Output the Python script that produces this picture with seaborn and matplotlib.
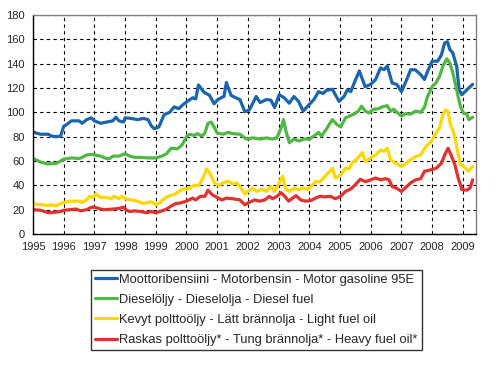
import numpy as np
import pandas as pd
import seaborn as sns
import matplotlib.pyplot as plt

# series (year as decimal, price index)
petrol_t = [1995.0, 1995.1, 1995.25, 1995.5, 1995.6, 1995.75, 1995.9, 1996.0, 1996.1, 1996.25,
            1996.5, 1996.6, 1996.75, 1996.9, 1997.0, 1997.2, 1997.4, 1997.6, 1997.7, 1997.8,
            1997.95, 1998.0, 1998.2, 1998.4, 1998.6, 1998.75, 1998.85, 1998.95, 1999.1, 1999.27,
            1999.45, 1999.6, 1999.75, 1999.87, 2000.0, 2000.2, 2000.3, 2000.39, 2000.57, 2000.75,
            2000.9, 2001.0, 2001.13, 2001.22, 2001.3, 2001.45, 2001.6, 2001.74, 2001.9, 2002.05,
            2002.27, 2002.4, 2002.6, 2002.75, 2002.87, 2003.02, 2003.18, 2003.35, 2003.5, 2003.65,
            2003.8, 2004.0, 2004.15, 2004.3, 2004.45, 2004.55, 2004.75, 2004.97, 2005.13, 2005.24,
            2005.35, 2005.5, 2005.63, 2005.82, 2006.0, 2006.16, 2006.32, 2006.43, 2006.54, 2006.7,
            2006.85, 2007.0, 2007.15, 2007.3, 2007.45, 2007.63, 2007.75, 2007.85, 2008.0, 2008.18,
            2008.3, 2008.41, 2008.5, 2008.58, 2008.67, 2008.8, 2008.88, 2008.97, 2009.13, 2009.32]
petrol_v = [84, 83, 82, 82, 80.5, 80, 80.5, 88.5, 90, 93,
            93, 91, 94, 95.5, 93, 91, 92, 93, 96, 93,
            92, 95.5, 95, 94, 95, 94, 89, 86.5, 88, 98,
            100, 104.5, 103, 106, 108.5, 112, 111, 122.5, 116.5, 114,
            107, 110, 112, 113, 124.5, 114, 112, 110.5, 100.5, 102,
            113, 108, 110.5, 110, 104, 114.5, 112, 107.5, 113, 109,
            101, 106.5, 110.5, 117, 115.5, 118, 119, 109, 113, 118.5,
            117, 126.5, 134, 121, 123, 127, 136.5, 135, 138, 124,
            123, 117, 125.5, 135, 135, 131, 127, 133.5, 142, 142,
            147, 157, 158, 151.5, 149, 138, 118.5, 114.5, 118.5, 123]

diesel_t = [1995.0, 1995.1, 1995.25, 1995.5, 1995.6, 1995.75, 1995.9, 1996.0, 1996.25, 1996.5,
            1996.6, 1996.75, 1996.9, 1997.0, 1997.2, 1997.4, 1997.5, 1997.6, 1997.8, 1998.0,
            1998.15, 1998.3, 1998.5, 1998.75, 1999.0, 1999.2, 1999.35, 1999.5, 1999.7, 1999.85,
            2000.0, 2000.1, 2000.25, 2000.35, 2000.5, 2000.6, 2000.7, 2000.8, 2000.9, 2001.0,
            2001.2, 2001.35, 2001.5, 2001.74, 2001.95, 2002.16, 2002.4, 2002.6, 2002.8, 2002.94,
            2003.08, 2003.16, 2003.24, 2003.35, 2003.5, 2003.67, 2003.83, 2004.0, 2004.15, 2004.3,
            2004.4, 2004.55, 2004.75, 2004.9, 2005.02, 2005.18, 2005.32, 2005.45, 2005.6, 2005.7,
            2005.83, 2005.94, 2006.1, 2006.26, 2006.37, 2006.54, 2006.65, 2006.75, 2006.88, 2007.0,
            2007.15, 2007.3, 2007.46, 2007.63, 2007.75, 2007.85, 2008.0, 2008.12, 2008.24, 2008.35,
            2008.48, 2008.58, 2008.69, 2008.8, 2008.92, 2009.02, 2009.13, 2009.2, 2009.32]
diesel_v = [62, 61, 59, 57.5, 58, 58, 60, 61.5, 62.5, 62,
            63, 65, 65.5, 65, 64, 62, 62, 64, 64, 66,
            64, 63, 63, 62.5, 62.5, 64, 66, 70.5, 70, 73,
            80, 82, 81, 82.5, 80.5, 83, 91, 92, 88, 83,
            82, 83.5, 82.5, 82, 78, 79, 78, 79, 78, 79,
            87, 94, 84.5, 75, 78, 76.5, 78, 78, 80.5, 83.5,
            80.5, 86, 94, 90, 88, 95.5, 97, 98.5, 101, 105,
            101, 99.5, 102.5, 103, 104.5, 105.5, 101, 102.5, 99.5, 97,
            99, 98.5, 101, 100, 104, 113, 121, 124, 129.5, 138,
            144, 140.5, 131, 118.5, 105, 99.5, 98.5, 94, 96]

light_t = [1995.0, 1995.1, 1995.3, 1995.5, 1995.6, 1995.75, 1995.85, 1996.0, 1996.2, 1996.5,
           1996.6, 1996.75, 1996.85, 1996.95, 1997.05, 1997.2, 1997.4, 1997.55, 1997.65, 1997.8,
           1997.9, 1998.0, 1998.2, 1998.4, 1998.6, 1998.75, 1998.85, 1999.0, 1999.15, 1999.27,
           1999.45, 1999.65, 1999.87, 2000.05, 2000.25, 2000.4, 2000.5, 2000.66, 2000.78, 2000.92,
           2001.05, 2001.2, 2001.35, 2001.5, 2001.62, 2001.74, 2001.9, 2002.0, 2002.15, 2002.3,
           2002.48, 2002.6, 2002.75, 2002.87, 2003.02, 2003.13, 2003.24, 2003.35, 2003.5, 2003.67,
           2003.8, 2003.94, 2004.05, 2004.2, 2004.35, 2004.5, 2004.7, 2004.76, 2004.85, 2005.02,
           2005.18, 2005.3, 2005.4, 2005.55, 2005.73, 2005.83, 2006.0, 2006.16, 2006.32, 2006.43,
           2006.54, 2006.65, 2006.82, 2007.0, 2007.15, 2007.3, 2007.46, 2007.63, 2007.8, 2007.97,
           2008.13, 2008.24, 2008.35, 2008.44, 2008.52, 2008.6, 2008.7, 2008.8, 2008.92, 2009.03,
           2009.18, 2009.32]
light_v = [25.5, 24.5, 24, 23.5, 24, 23, 24.5, 26, 27, 27,
           26, 28, 31, 30, 33, 30, 30, 29, 31, 29,
           31, 29, 28, 27, 25, 26, 26.5, 24, 26, 29,
           31.5, 33, 37, 37, 40, 40, 44, 53.5, 49, 41.5,
           40, 42, 43.5, 41, 42, 39, 33, 35, 37.5, 35,
           37, 35, 39, 35, 42, 47.5, 36.5, 35, 37.5, 36.5,
           38, 36.5, 39, 43, 43, 47, 52.5, 54, 46, 48.5,
           54, 53.5, 58.5, 61.5, 67, 59.5, 62.5, 65, 69, 68,
           70.5, 61, 58, 55.5, 58, 61, 63.5, 65, 72, 76,
           83, 87, 98, 102, 100.5, 89.5, 84, 72, 57, 55.5,
           51.5, 55.5]

heavy_t = [1995.0, 1995.25, 1995.5, 1995.75, 1995.9, 1996.0, 1996.2, 1996.4, 1996.55, 1996.75,
           1996.9, 1997.0, 1997.2, 1997.35, 1997.6, 1997.8, 1997.95, 1998.05, 1998.15, 1998.3,
           1998.5, 1998.7, 1998.85, 1999.0, 1999.2, 1999.35, 1999.5, 1999.65, 1999.8, 2000.0,
           2000.2, 2000.3, 2000.45, 2000.6, 2000.7, 2000.85, 2001.0, 2001.15, 2001.3, 2001.5,
           2001.74, 2001.9, 2002.0, 2002.22, 2002.38, 2002.55, 2002.7, 2002.8, 2002.95, 2003.08,
           2003.2, 2003.33, 2003.45, 2003.57, 2003.72, 2003.88, 2004.05, 2004.2, 2004.35, 2004.5,
           2004.68, 2004.85, 2005.02, 2005.18, 2005.35, 2005.5, 2005.66, 2005.83, 2006.0, 2006.16,
           2006.32, 2006.48, 2006.6, 2006.7, 2006.85, 2007.0, 2007.15, 2007.3, 2007.46, 2007.63,
           2007.75, 2007.92, 2008.13, 2008.3, 2008.41, 2008.52, 2008.63, 2008.74, 2008.85, 2008.97,
           2009.13, 2009.24, 2009.32]
heavy_v = [20, 19.5, 17.5, 18, 18.5, 19.5, 20, 20.5, 19, 20,
           22, 22, 20.5, 20, 20.5, 21, 22, 19.5, 18.5, 19,
           18.5, 17.5, 18.5, 17.5, 19, 20.5, 23, 25, 25.5, 27,
           29.5, 28, 31, 31, 36, 32, 30, 28, 29.5, 29,
           28, 24, 25.5, 28, 27, 28, 31, 29, 31, 34,
           31, 27, 29.5, 31.5, 28, 27, 27.5, 29.5, 31, 30.5,
           31, 29, 31, 35, 37, 40.5, 45, 43, 44.5, 46,
           44.5, 45.5, 44.5, 39, 37.5, 35, 38.5, 42, 44.5, 45.5,
           51.5, 52.5, 54, 58, 65, 70.5, 64, 57, 46, 36.5,
           36, 38, 44.5]

labels = ['Moottoribensiini - Motorbensin - Motor gasoline 95E',
          'Dieselöljy - Dieselolja - Diesel fuel',
          'Kevyt polttoöljy - Lätt brännolja - Light fuel oil',
          'Raskas polttoöljy* - Tung brännolja* - Heavy fuel oil*']
colors = ['#1b64b0', '#4fb843', '#ffd700', '#e2312f']

sns.set_style('white')
plt.rcParams['font.family'] = ['Liberation Sans', 'DejaVu Sans']

fig = plt.figure(figsize=(4.97, 3.66), dpi=100)
ax = fig.add_axes([33 / 497, 1 - 234 / 366, (476 - 33) / 497, (234 - 15) / 366])

series = [(petrol_t, petrol_v), (diesel_t, diesel_v), (light_t, light_v), (heavy_t, heavy_v)]
for (t, v), lab, c in zip(series, labels, colors):
    sns.lineplot(x=t, y=v, ax=ax, color=c, lw=2.3, label=lab)

ax.set_xlim(1995, 2009.43)
ax.set_ylim(0, 180)
ax.set_xticks(range(1995, 2010))
ax.set_yticks(range(0, 181, 20))
ax.grid(True, color='black', ls=(0, (3, 3)), lw=0.8)
ax.tick_params(axis='both', labelsize=8, length=3, width=0.8, color='black', pad=3)
ax.tick_params(axis='x', direction='inout', length=5)
for s in ['left', 'bottom']:
    ax.spines[s].set_color('black')
    ax.spines[s].set_linewidth(1)
for s in ['top', 'right']:
    ax.spines[s].set_color('#808080')
    ax.spines[s].set_linewidth(1)
ax.set_xlabel('')
ax.set_ylabel('')

h, l = ax.get_legend_handles_labels()
ax.get_legend().remove()
leg = fig.legend(h, l, loc='upper left', bbox_to_anchor=(91 / 497, 1 - 270 / 366),
                 fontsize=9.3, frameon=True, fancybox=False, edgecolor='black',
                 borderaxespad=0, borderpad=0.3, handlelength=1.7, handletextpad=0.2,
                 labelspacing=0.62)
leg.get_frame().set_linewidth(1)

plt.savefig('out.png', dpi=100)
